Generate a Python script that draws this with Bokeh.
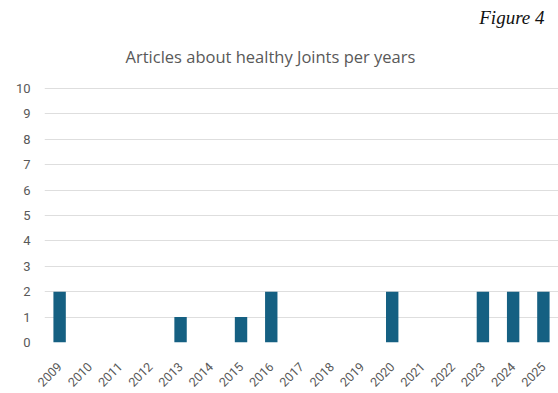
import math
from bokeh.plotting import figure
from bokeh.models import Range1d, Title, FixedTicker
from bokeh.embed import file_html
from bokeh.resources import INLINE

years = ["2009", "2010", "2011", "2012", "2013", "2014", "2015", "2016", "2017",
         "2018", "2019", "2020", "2021", "2022", "2023", "2024", "2025"]
articles = [2, 0, 0, 0, 1, 0, 1, 2, 0, 0, 0, 2, 0, 0, 2, 2, 2]
y_ticks = list(range(0, 11))

chart_title = "Articles about healthy Joints per years"
figure_caption = "Figure 4"

BAR = "#156082"
TEXT = "#595959"
GRID = "#dedede"

p = figure(x_range=years, y_range=Range1d(0, 10.04), width=558, height=393,
           output_backend="svg", toolbar_location=None,
           min_border_left=44, min_border_right=0, min_border_top=87,
           min_border_bottom=50, background_fill_color="white",
           border_fill_color="white", outline_line_color=None)
p.x_range.range_padding = 0

p.vbar(x=years, top=articles, width=0.41, fill_color=BAR, line_color=None)

p.yaxis.ticker = FixedTicker(ticks=y_ticks)
p.yaxis.axis_line_color = None
p.yaxis.major_tick_line_color = None
p.yaxis.minor_tick_line_color = None
p.yaxis.major_label_text_font = "Roboto"
p.yaxis.major_label_text_font_size = "13px"
p.yaxis.major_label_text_color = TEXT
p.yaxis.major_label_standoff = 8

p.xaxis.axis_line_color = None
p.xaxis.major_tick_line_color = None
p.xaxis.major_label_orientation = math.pi / 4
p.xaxis.major_label_text_font = "Roboto"
p.xaxis.major_label_text_font_size = "12.5px"
p.xaxis.major_label_text_color = TEXT
p.xaxis.major_label_standoff = 16

p.xgrid.grid_line_color = None
p.ygrid.grid_line_color = GRID
p.ygrid.grid_line_width = 1

# the built-in title holds the italic caption (outermost); the chart title
# is added below it, next to the frame
p.title.text = figure_caption
p.title.align = "right"
p.title.offset = 14
p.title.text_font = "Liberation Serif"
p.title.text_font_style = "italic"
p.title.text_font_size = "19px"
p.title.text_color = "#111111"
p.title.standoff = -9

p.add_layout(Title(text=chart_title, align="left", offset=81,
                   text_font="Open Sans", text_font_style="normal",
                   text_font_size="16.5px", text_color=TEXT, standoff=39),
             "above")

open("out.html", "w").write(file_html(p, INLINE))
